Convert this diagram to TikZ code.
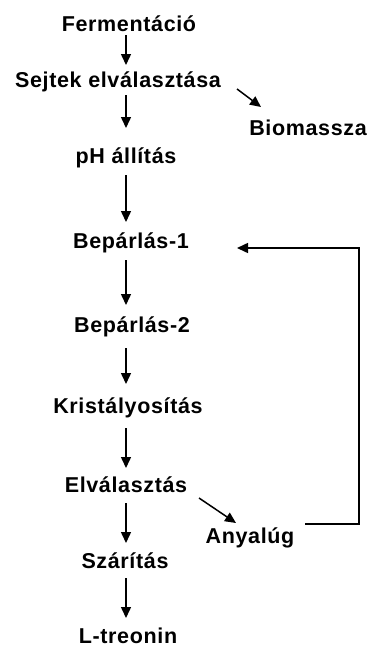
\documentclass[tikz,border=0pt]{standalone}
\usepackage{fontspec}
\setmainfont{Liberation Sans}[LetterSpace=3]
\usetikzlibrary{arrows.meta,calc}
\begin{document}
\begin{tikzpicture}[x=1pt,y=1pt,
  lbl/.style={anchor=base,inner sep=0pt,font=\fontsize{21.5}{24}\selectfont\bfseries},
  arr/.style={line width=1.5pt,-{Triangle[width=10pt,length=11pt]}}]
\useasboundingbox (0,0) rectangle (372,-648);
\coordinate (ax) at (126,0);
\node[lbl] (ferm) at (129,-31) {Fermentáció};
\node[lbl] (sejt) at (118,-87) {Sejtek elválasztása};
\node[lbl] (bio) at (308,-135) {Biomassza};
\node[lbl] (ph) at (126,-163) {pH állítás};
\node[lbl] (bep1) at (131,-248) {Bepárlás-1};
\node[lbl] (bep2) at (132,-332) {Bepárlás-2};
\node[lbl] (krist) at (128,-413) {Kristályosítás};
\node[lbl] (elv) at (126,-492) {Elválasztás};
\node[lbl] (any) at (250,-543) {Anyalúg};
\node[lbl] (szar) at (125,-568) {Szárítás};
\node[lbl] (ltr) at (128,-643) {L-treonin};
\draw[arr,shorten <=4pt,shorten >=22pt] (ferm.base -| ax) -- (sejt.base -| ax);
\draw[arr,shorten <=8pt,shorten >=35pt] (sejt.base -| ax) -- (ph.base -| ax);
\draw[arr,shorten <=12pt,shorten >=26pt] (ph.base -| ax) -- (bep1.base -| ax);
\draw[arr,shorten <=12pt,shorten >=27pt] (bep1.base -| ax) -- (bep2.base -| ax);
\draw[arr,shorten <=16pt,shorten >=29pt] (bep2.base -| ax) -- (krist.base -| ax);
\draw[arr,shorten <=15pt,shorten >=24pt] (krist.base -| ax) -- (elv.base -| ax);
\draw[arr,shorten <=11pt,shorten >=25pt] (elv.base -| ax) -- (szar.base -| ax);
\draw[arr,shorten <=10pt,shorten >=25pt] (szar.base -| ax) -- (ltr.base -| ax);
\draw[arr] ([shift={(119pt,-2pt)}]sejt.base) -- ([shift={(-47pt,28pt)}]bio.base);
\draw[arr] ([shift={(73pt,-6pt)}]elv.base) -- ([shift={(-14pt,20pt)}]any.base);
\draw[arr] ([shift={(55pt,19pt)}]any.base) -| ([shift={(228pt,0pt)}]bep1.base) -- ([shift={(106pt,0pt)}]bep1.base);
\end{tikzpicture}
\end{document}
